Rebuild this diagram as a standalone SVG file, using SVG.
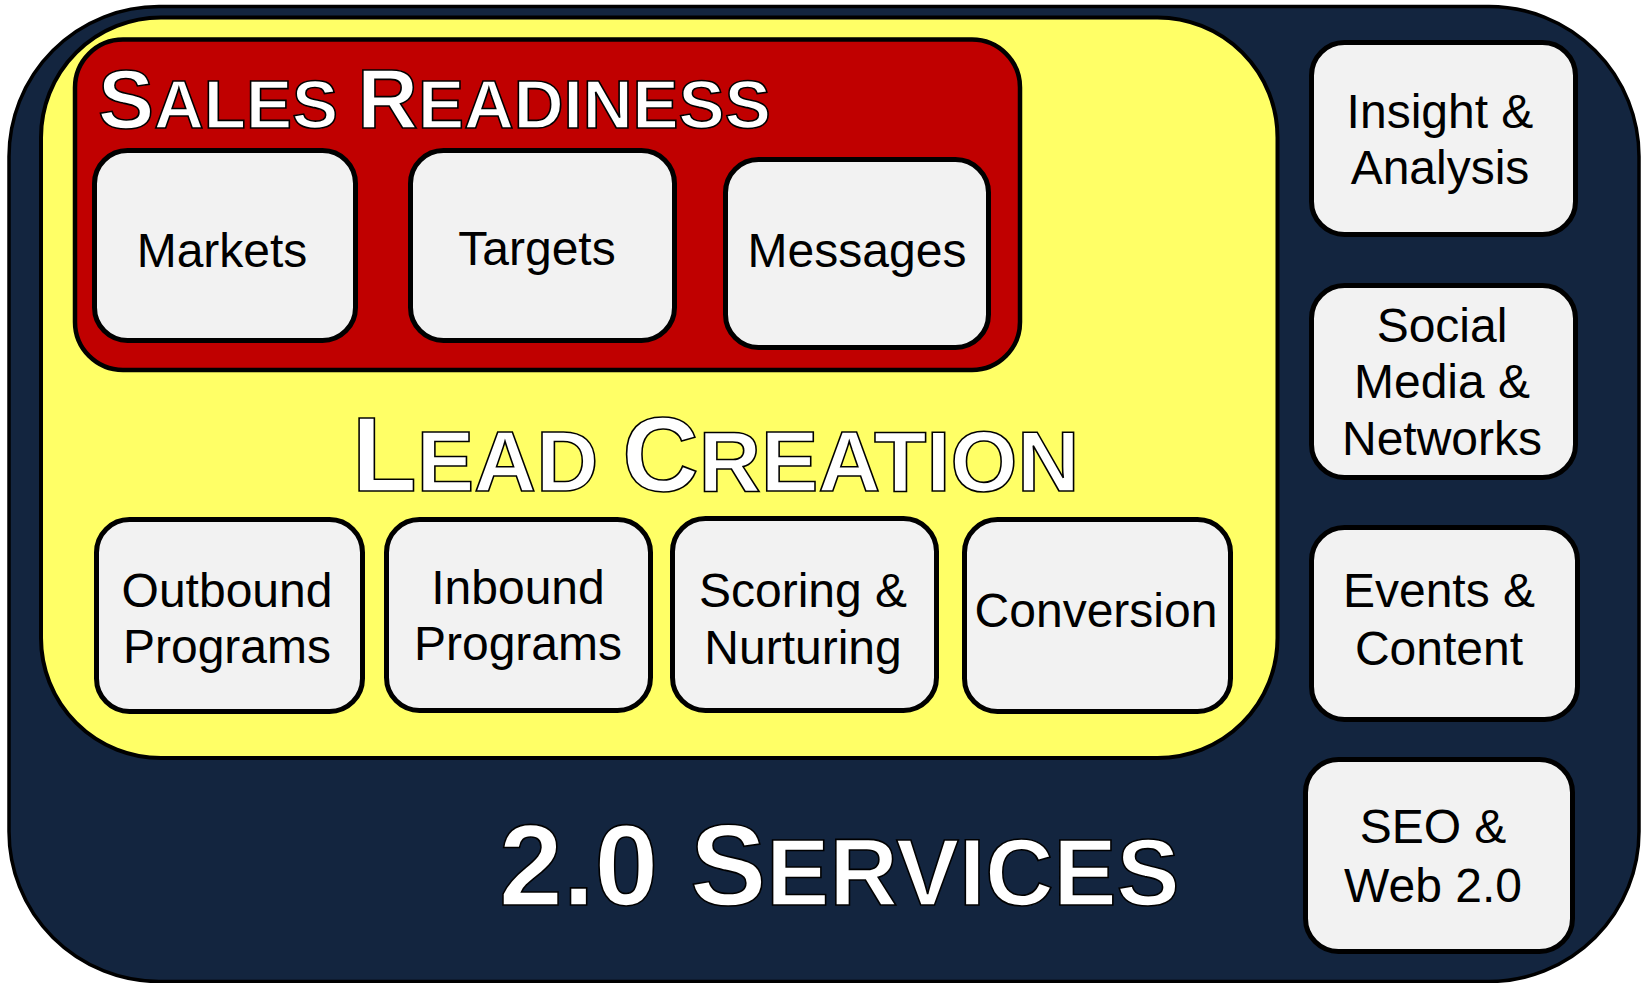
<svg xmlns="http://www.w3.org/2000/svg" width="1644" height="983" viewBox="0 0 1644 983">
  <style>
    .frame { stroke: #000; }
    .box { fill: #F2F2F2; stroke: #000; stroke-width: 5; }
    .label { font-family: "Liberation Sans", Arial, sans-serif; font-size: 48px; fill: #000; text-anchor: middle; }
    .title { font-family: "Liberation Sans", Arial, sans-serif; font-weight: bold; fill: #fff; stroke: #000; stroke-width: 1.6; }
  </style>

  <!-- outer service frame -->
  <g id="services">
    <rect class="frame" x="9" y="6.5" width="1630" height="975" rx="150" ry="150" fill="#13253F" stroke-width="3.5"/>
    <text class="title" x="499" y="905"><tspan font-size="114.5">2.0 S</tspan><tspan font-size="94.5">ERVICES</tspan></text>
  </g>

  <!-- lead creation panel -->
  <g id="lead-creation">
    <rect class="frame" x="41" y="17.5" width="1236.5" height="740.5" rx="120" ry="120" fill="#FFFF66" stroke-width="4"/>
    <text class="title" x="352" y="491"><tspan font-size="106">L</tspan><tspan font-size="86">EAD </tspan><tspan font-size="106">C</tspan><tspan font-size="86">REATION</tspan></text>
  </g>

  <!-- sales readiness panel -->
  <g id="sales-readiness">
    <rect class="frame" x="75" y="39.5" width="945" height="330.5" rx="48" ry="48" fill="#C00000" stroke-width="4.5"/>
    <text class="title" x="98" y="128"><tspan font-size="84">S</tspan><tspan font-size="69">ALES </tspan><tspan font-size="84">R</tspan><tspan font-size="69">EADINESS</tspan></text>
  </g>

  <g id="markets">
    <rect class="box" x="94.5" y="150.5" width="261" height="190" rx="33"/>
    <text class="label" x="222" y="267">Markets</text>
  </g>
  <g id="targets">
    <rect class="box" x="410.5" y="150.5" width="264" height="190" rx="33"/>
    <text class="label" x="537" y="265">Targets</text>
  </g>
  <g id="messages">
    <rect class="box" x="725.5" y="159.5" width="263" height="188" rx="33"/>
    <text class="label" x="857" y="267">Messages</text>
  </g>

  <g id="outbound-programs">
    <rect class="box" x="96.5" y="519.5" width="266" height="192" rx="33"/>
    <text class="label" x="227" y="607">Outbound</text>
    <text class="label" x="227" y="663">Programs</text>
  </g>
  <g id="inbound-programs">
    <rect class="box" x="386.5" y="519.5" width="264" height="191" rx="33"/>
    <text class="label" x="518" y="604">Inbound</text>
    <text class="label" x="518" y="660">Programs</text>
  </g>
  <g id="scoring-nurturing">
    <rect class="box" x="672.5" y="518.5" width="264" height="192" rx="33"/>
    <text class="label" x="803" y="607">Scoring &amp;</text>
    <text class="label" x="803" y="664">Nurturing</text>
  </g>
  <g id="conversion">
    <rect class="box" x="964.5" y="519.5" width="266" height="192" rx="33"/>
    <text class="label" x="1096" y="627">Conversion</text>
  </g>

  <g id="insight-analysis">
    <rect class="box" x="1311.5" y="42.5" width="264" height="192" rx="33"/>
    <text class="label" x="1440" y="128">Insight &amp;</text>
    <text class="label" x="1440" y="184">Analysis</text>
  </g>
  <g id="social-media-networks">
    <rect class="box" x="1311.5" y="285.5" width="264" height="192" rx="33"/>
    <text class="label" x="1442" y="342">Social</text>
    <text class="label" x="1442" y="398">Media &amp;</text>
    <text class="label" x="1442" y="455">Networks</text>
  </g>
  <g id="events-content">
    <rect class="box" x="1311.5" y="527.5" width="266" height="192" rx="33"/>
    <text class="label" x="1439" y="607">Events &amp;</text>
    <text class="label" x="1439" y="665">Content</text>
  </g>
  <g id="seo-web">
    <rect class="box" x="1305.5" y="759.5" width="267" height="192" rx="33"/>
    <text class="label" x="1433" y="843">SEO &amp;</text>
    <text class="label" x="1433" y="902">Web 2.0</text>
  </g>

  <g id="connectors"></g>
</svg>
